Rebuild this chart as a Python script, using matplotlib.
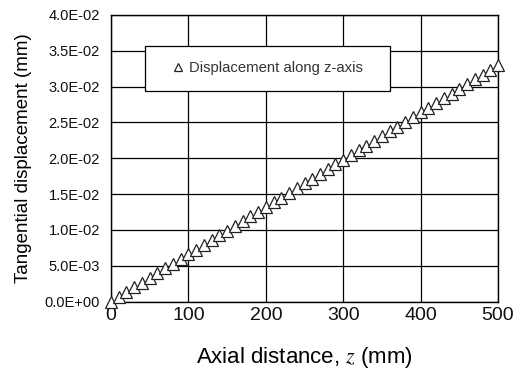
import matplotlib
matplotlib.use("Agg")
import matplotlib.pyplot as plt
from matplotlib.patches import Rectangle

z_mm = [0, 10, 20, 30, 40, 50, 60, 70, 80, 90, 100,
        110, 120, 130, 140, 150, 160, 170, 180, 190, 200,
        210, 220, 230, 240, 250, 260, 270, 280, 290, 300,
        310, 320, 330, 340, 350, 360, 370, 380, 390, 400,
        410, 420, 430, 440, 450, 460, 470, 480, 490, 500]
disp = [0.0, 0.00066, 0.00132, 0.00198, 0.00264, 0.0033, 0.00396, 0.00462, 0.00528, 0.00594, 0.0066,
        0.00726, 0.00792, 0.00858, 0.00924, 0.0099, 0.01056, 0.01122, 0.01188, 0.01254, 0.0132,
        0.01386, 0.01452, 0.01518, 0.01584, 0.0165, 0.01716, 0.01782, 0.01848, 0.01914, 0.0198,
        0.02046, 0.02112, 0.02178, 0.02244, 0.0231, 0.02376, 0.02442, 0.02508, 0.02574, 0.0264,
        0.02706, 0.02772, 0.02838, 0.02904, 0.0297, 0.03036, 0.03102, 0.03168, 0.03234, 0.033]
x_ticks = [0, 100, 200, 300, 400, 500]
y_ticks = [0.0, 0.005, 0.01, 0.015, 0.02, 0.025, 0.03, 0.035, 0.04]
y_tick_labels = ["0.0E+00", "5.0E-03", "1.0E-02", "1.5E-02", "2.0E-02",
                 "2.5E-02", "3.0E-02", "3.5E-02", "4.0E-02"]
series_label = "Displacement along z-axis"

plt.rcParams['font.family'] = ['Liberation Sans', 'DejaVu Sans']
plt.rcParams['mathtext.fontset'] = 'stix'

fig = plt.figure(figsize=(5.13, 3.70), dpi=100)
ax = fig.add_axes([0.2164, 0.185, 0.7544, 0.7745])

ax.plot(z_mm, disp, linestyle='none', marker='^', markersize=8.5,
        markerfacecolor='white', markeredgecolor='#222222', markeredgewidth=0.9,
        label=series_label, zorder=4, clip_on=False)

ax.set_xlim(0, 500)
ax.set_ylim(0, 0.04)
ax.set_xticks(x_ticks)
ax.set_xticklabels([str(t) for t in x_ticks], fontsize=14)
ax.set_yticks(y_ticks)
ax.set_yticklabels(y_tick_labels, fontsize=10.5)
ax.tick_params(length=0, colors='#111111')
ax.tick_params(axis='y', pad=8)
ax.tick_params(axis='x', pad=4)
ax.grid(True, color='black', linewidth=0.9)
ax.set_axisbelow(True)
for s in ax.spines.values():
    s.set_color('black')
    s.set_linewidth(1.0)

ax.set_xlabel("Axial distance, $z$ (mm)", fontsize=16, labelpad=15)
ax.set_ylabel("Tangential displacement (mm)", fontsize=13.5, labelpad=9)

box = Rectangle((0.088, 0.735), 0.632, 0.157, transform=ax.transAxes,
                facecolor='white', edgecolor='black', linewidth=0.9, zorder=3)
ax.add_patch(box)
leg = ax.legend(loc='center', bbox_to_anchor=(0.088 + 0.632 / 2, 0.735 + 0.157 / 2),
                frameon=False, fontsize=10.7, markerscale=0.6, handlelength=0.8,
                handletextpad=0.3, labelcolor='#333333')
leg.set_zorder(5)

fig.savefig("out.png", dpi=100)
